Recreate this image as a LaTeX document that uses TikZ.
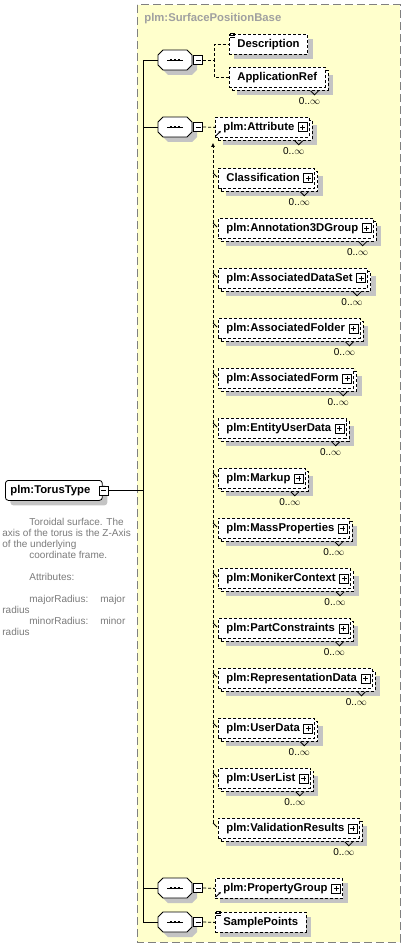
\documentclass[tikz,border=0pt]{standalone}
\usepackage{fontspec}
\setmainfont{Liberation Sans}
\usetikzlibrary{arrows.meta,positioning,calc,shadows}
\definecolor{paperyellow}{HTML}{FFFFCC}
\definecolor{framegray}{HTML}{808080}
\definecolor{shadowgray}{HTML}{C4C4C4}
\definecolor{captiongray}{HTML}{A0A0A0}
\definecolor{notegray}{HTML}{7A7A7A}

\newcommand\many{0..$\infty$}

\tikzset{
  lbl/.style={font=\fontsize{11.3}{13}\selectfont\bfseries},
  eltshadow/.style={drop shadow={shadow xshift=5pt, shadow yshift=-5pt, fill=shadowgray, opacity=1}},
  elt/.style={lbl, draw, fill=white, dash pattern=on 3pt off 2pt, line width=0.8pt,
    anchor=north west, minimum height=20pt, inner xsep=8pt, inner ysep=0pt,
    text height=8pt, text depth=2.5pt},
  stackback/.style={elt, eltshadow},
  icon/.style={draw, solid, fill=white, line width=0.8pt, minimum size=9pt, inner sep=0pt},
  plusicon/.style={icon, path picture={
    \draw[line width=0.8pt] ([xshift=2pt]path picture bounding box.west) -- ([xshift=-2pt]path picture bounding box.east)
      ([yshift=-2pt]path picture bounding box.north) -- ([yshift=2pt]path picture bounding box.south);}},
  minusicon/.style={icon, path picture={
    \draw[line width=0.8pt] ([xshift=2pt]path picture bounding box.west) -- ([xshift=-2pt]path picture bounding box.east);}},
  seqbox/.style={minimum width=34pt, minimum height=20pt, inner sep=0pt, path picture={
    \draw[line width=0.8pt] ([xshift=-8pt]path picture bounding box.center) -- ([xshift=8pt]path picture bounding box.center);
    \draw[line width=2.6pt, dash pattern=on 2.6pt off 1.4pt] ([xshift=-5.2pt]path picture bounding box.center) -- ([xshift=5.2pt]path picture bounding box.center);}},
  conn/.style={dash pattern=on 3pt off 2pt, line width=0.8pt},
  mult/.style={font=\fontsize{10}{11}\selectfont, inner sep=0pt},
}

\begin{document}
\begin{tikzpicture}[x=1pt, y=-1pt, line width=0.8pt]
  \useasboundingbox (0,0) rectangle (406,949);

  % group frame
  \fill[paperyellow] (137,5) rectangle (400,942);
  \draw[framegray, line width=1pt, dash pattern=on 8pt off 4pt] (137,5) rectangle (400,942);
  \node[lbl, anchor=west, inner sep=0pt, text=captiongray] (base-title) at (144,19) {plm:SurfacePositionBase};

  % the type
  \node[lbl, draw, solid, rounded corners=3pt, fill=white, anchor=north west, minimum height=20pt,
    inner xsep=5pt, inner ysep=0pt, text height=8pt, text depth=2.5pt, eltshadow] (torus) at (5,480) {plm:TorusType\kern7pt};
  \node[minusicon] (torus-m) at ([xshift=1pt]torus.east) {};
  \node[anchor=north west, align=left, inner sep=0pt, text=notegray, font=\fontsize{10}{11}\selectfont] (torus-doc) at (2,517.5)
    {\hspace*{27pt}Toroidal surface. The\\
     axis of the torus is the Z-Axis\\
     of the underlying\\
     \hspace*{27pt}coordinate frame.\\
     \mbox{}\\
     \hspace*{27pt}Attributes:\\
     \mbox{}\\
     \hspace*{27pt}\makebox[71pt][l]{majorRadius:}major\\
     radius\\
     \hspace*{27pt}\makebox[71pt][l]{minorRadius:}minor\\
     radius};

  % sequences
  \foreach \s/\y in {seqA/60, seqB/127, seqC/888, seqD/922} {
    \fill[shadowgray, shift={(180,\y+5)}] (-17,-5) -- (-12,-10) -- (12,-10) -- (17,-5) -- (17,5) -- (12,10) -- (-12,10) -- (-17,5) -- cycle;
    \draw[fill=white, shift={(175,\y)}] (-17,-5) -- (-12,-10) -- (12,-10) -- (17,-5) -- (17,5) -- (12,10) -- (-12,10) -- (-17,5) -- cycle;
    \node[seqbox] (\s) at (175,\y) {};
    \node[minusicon, anchor=west] (\s-m) at ([xshift=1pt]\s.east) {};
  }

  \coordinate (spine) at (143,0);
  \draw (torus-m.east) -- (torus-m.east -| spine);
  \draw (seqA.west) -- (seqA.west -| spine) -- (seqD.west -| spine) -- (seqD.west);
  \draw (seqB.west) -- (seqB.west -| spine);
  \draw (seqC.west) -- (seqC.west -| spine);

  % first sequence
  \node[elt, eltshadow] (desc) at (229,34) {Description};
  \foreach \k in {-1,1,3}
    \draw ($(desc.north west)+(1,\k)$) -- ++(5,0);
  \node[stackback] (appref-b) at (232,70) {\phantom{ApplicationRef}};
  \node[elt] (appref) at (229,67) {ApplicationRef};
  \draw ($(appref.south east)+(-15,3)$) -- ++(4,4) -- ++(4,-4);
  \node[mult] (appref-n) at ($(appref.south east)+(-16,13)$) {\many};
  \draw[conn] (seqA-m.east) -- ++(11,0) |- (desc.west);
  \draw[conn] (seqA-m.east) -- ++(11,0) |- (appref.west);

  % substitution group
  \node[stackback] (attr-b) at (218,120) {\phantom{plm:Attribute}\kern7pt};
  \node[elt] (attr) at (215,117) {plm:Attribute\kern7pt};
  \node[plusicon, anchor=east] (attr-x) at ([xshift=-2pt]attr.east) {};
  \draw[-{Latex[length=2.5pt,width=2.5pt]}] ($(attr.south west)+(1,-2)$) -- ++(5,-5);
  \draw ($(attr.south east)+(-15,3)$) -- ++(4,4) -- ++(4,-4);
  \node[mult] (attr-n) at ($(attr.south east)+(-16,13)$) {\many};
  \draw[conn] (seqB-m.east) -- (attr.west);

  \foreach \nm/\txt/\y in {cls/Classification/168, ann/plm:Annotation3DGroup/218,
      ads/plm:AssociatedDataSet/268, afo/plm:AssociatedFolder/318, afm/plm:AssociatedForm/368,
      eud/plm:EntityUserData/418, mku/plm:Markup/468, msp/plm:MassProperties/518,
      mon/plm:MonikerContext/568, pcs/plm:PartConstraints/618, rep/plm:RepresentationData/668,
      usd/plm:UserData/718, usl/plm:UserList/768, val/plm:ValidationResults/818}
  {
    \node[stackback] (\nm-b) at (221,\y+3) {\phantom{\txt}\kern7pt};
    \node[elt] (\nm) at (218,\y) {\txt\kern7pt};
    \node[plusicon, anchor=east] (\nm-x) at ([xshift=-2pt]\nm.east) {};
    \draw ($(\nm.south east)+(-15,3)$) -- ++(4,4) -- ++(4,-4);
    \node[mult] (\nm-n) at ($(\nm.south east)+(-16,13)$) {\many};
    \draw ($(\nm.north west)+(-5,5)$) -- ($(\nm.north west)+(-1,9)$);
  }
  \coordinate (subst-top) at ($(attr.south west)+(-2,5)$);
  \coordinate (subst-foot) at ($(val.north west)+(-5,5)$);
  \draw[conn, -{Latex[length=4pt,width=4pt]}] (subst-foot) -- (subst-top);

  % last sequences
  \node[elt, eltshadow] (pgrp) at (215,878) {plm:PropertyGroup\kern7pt};
  \node[plusicon, anchor=east] (pgrp-x) at ([xshift=-2pt]pgrp.east) {};
  \draw[-{Latex[length=2.5pt,width=2.5pt]}] ($(pgrp.south west)+(1,-2)$) -- ++(5,-5);
  \draw[conn] (seqC-m.east) -- (pgrp.west);

  \node[elt, eltshadow] (smpl) at (215,912) {SamplePoints};
  \foreach \k in {-1,1,3}
    \draw ($(smpl.north west)+(1,\k)$) -- ++(5,0);
  \draw[conn] (seqD-m.east) -- (smpl.west);
\end{tikzpicture}
\end{document}
